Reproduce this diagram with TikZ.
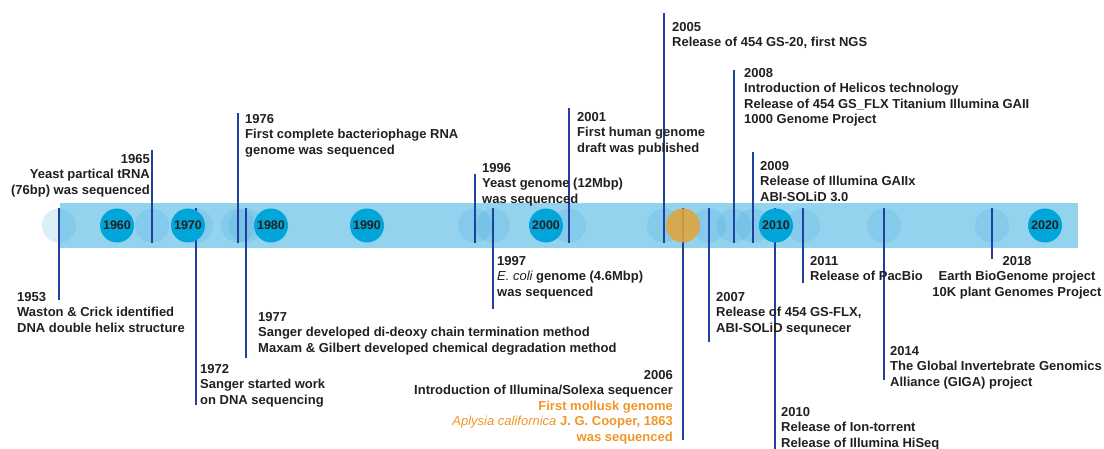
\documentclass[tikz,border=0pt]{standalone}
\usepackage{fontspec}
\setmainfont{Liberation Sans}
\definecolor{band}{RGB}{148,211,238}
\definecolor{yearc}{RGB}{0,166,218}
\definecolor{ev}{RGB}{70,170,220}
\definecolor{lineb}{RGB}{32,64,160}
\definecolor{orng}{RGB}{224,165,58}
\definecolor{txt}{RGB}{35,31,32}
\definecolor{otxt}{RGB}{240,150,40}
\tikzset{
  evline/.style={draw=lineb, line width=2pt},
  evdot/.style={circle, minimum size=34pt, inner sep=0pt, fill=ev, fill opacity=0.2},
  yeardot/.style={circle, minimum size=34pt, inner sep=0pt, fill=yearc, text=txt,
    font=\bfseries\fontsize{12.5}{14}\selectfont},
  mollusk/.style={circle, minimum size=34pt, inner sep=0pt, fill=orng, fill opacity=0.88},
  lbl/.style={inner sep=0pt, font=\bfseries\fontsize{13}{15.5}\selectfont, text=txt,
    align=left, anchor=north west},
  lblr/.style={lbl, anchor=north east, align=right},
  lblc/.style={lbl, anchor=north, align=center},
}
\begin{document}
\begin{tikzpicture}[x=1pt, y=-1pt]
\useasboundingbox (0,0) rectangle (1104,448);
% band
\fill[band] (60,203) rectangle (1078,248);
% event dots
\foreach \n/\x in {1953/59,1965/152,1972/196,1976/238,1977/246,1996/475,1997/493,
  2001/569,2005/664,2007/709,2008/734,2009/753,2010/775,2011/803,2014/884,2018/992}
  \node[evdot] (e\n) at (\x,225.5) {};
\node[minimum size=34pt, circle, inner sep=0pt] (e2006) at (683,225.5) {};
% free ends of connectors
\coordinate (t1953) at (59,300);
\coordinate (t1965) at (152,150);
\coordinate (t1972) at (196,405);
\coordinate (t1976) at (238,113);
\coordinate (t1977) at (246,358);
\coordinate (t1996) at (475,174);
\coordinate (t1997) at (493,309);
\coordinate (t2001) at (569,108);
\coordinate (t2005) at (664,13);
\coordinate (t2006) at (683,440);
\coordinate (t2007) at (709,342);
\coordinate (t2008) at (734,70);
\coordinate (t2009) at (753,152);
\coordinate (t2010) at (775,452);
\coordinate (t2011) at (803,283);
\coordinate (t2014) at (884,380);
\coordinate (t2018) at (992,259);
% connectors down
\foreach \n in {1953,1972,1977,1997,2006,2007,2010,2011,2014,2018}
  \draw[evline] (e\n.north) -- (t\n);
% connectors up
\foreach \n in {1965,1976,1996,2001,2005,2008,2009}
  \draw[evline] (e\n.south) -- (t\n);
% decade dots
\foreach \y/\x in {1960/117,1970/188,1980/271,1990/367,2000/546,2010/776,2020/1045}
  \node[yeardot] (y\y) at (\x,225.5) {\y};
% mollusk genome dot
\node[mollusk] (m2006) at (e2006) {};
% labels
\node[lbl] (l1953) at (17,292) {1953\\Waston \& Crick identified\\DNA double helix structure};
\node[lblr] (l1965) at (150,154) {1965\\Yeast partical tRNA\\(76bp) was sequenced};
\node[lbl] (l1972) at (200,364) {1972\\Sanger started work\\on DNA sequencing};
\node[lbl] (l1976) at (245,114) {1976\\First complete bacteriophage RNA\\genome was sequenced};
\node[lbl] (l1977) at (258,312) {1977\\Sanger developed di-deoxy chain termination method\\Maxam \& Gilbert developed chemical degradation method};
\node[lbl] (l1996) at (482,163) {1996\\Yeast genome (12Mbp)\\was sequenced};
\node[lbl] (l1997) at (497,256) {1997\\{\mdseries\itshape E. coli} genome (4.6Mbp)\\was sequenced};
\node[lbl] (l2001) at (577,112) {2001\\First human genome\\draft was published};
\node[lbl] (l2005) at (672,22) {2005\\Release of 454 GS-20, first NGS};
\node[lblr] (l2006) at (673,370) {2006\\Introduction of Illumina/Solexa sequencer\\\textcolor{otxt}{First mollusk genome}\\\textcolor{otxt}{{\mdseries\itshape Aplysia californica} J. G. Cooper, 1863}\\\textcolor{otxt}{was sequenced}};
\node[lbl] (l2007) at (716,292) {2007\\Release of 454 GS-FLX,\\ABI-SOLiD sequnecer};
\node[lbl] (l2008) at (744,68) {2008\\Introduction of Helicos technology\\Release of 454 GS\_FLX Titanium Illumina GAII\\1000 Genome Project};
\node[lbl] (l2009) at (760,161) {2009\\Release of Illumina GAIIx\\ABI-SOLiD 3.0};
\node[lbl] (l2010) at (781,407) {2010\\Release of Ion-torrent\\Release of Illumina HiSeq};
\node[lbl] (l2011) at (810,256) {2011\\Release of PacBio};
\node[lbl] (l2014) at (890,346) {2014\\The Global Invertebrate Genomics\\Alliance (GIGA) project};
\node[lblc] (l2018) at (1017,256) {2018\\Earth BioGenome project\\10K plant Genomes Project};
\end{tikzpicture}
\end{document}
